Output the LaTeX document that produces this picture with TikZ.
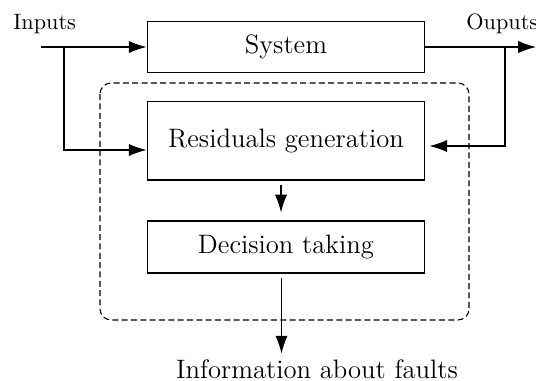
\documentclass[tikz,border=0pt]{standalone}
\usepackage{amsmath,amssymb}
\usepackage{tikz}
\usetikzlibrary{calc,positioning,arrows.meta}

\begin{document}
\begin{tikzpicture}[x=0.45pt,y=0.45pt,yscale=-1,xscale=1,
  blockbox/.style={draw, line width=0.5pt, minimum width=125pt, inner sep=0pt, font=\large},
  flow/.style={line width=0.5pt, -{Latex[length=8pt,width=5.5pt]}},
  plainlabel/.style={anchor=base west, inner sep=0pt}]
\useasboundingbox (0,0) rectangle (536,381);

%Shape: Rectangle [system]
\draw (286,47) node [blockbox, minimum height=23pt] (sys) {System};
%Shape: Rectangle [residuals]
\draw (286,140.5) node [blockbox, minimum height=35.5pt] (res) {Residuals generation};
%Shape: Rectangle [decision]
\draw (286,247) node [blockbox, minimum height=23.4pt] (dec) {Decision taking};

%Shape: Rounded Rect [diagnosis part]
\draw [line width=0.5pt, dash pattern=on 2.7pt off 1.5pt, rounded corners=5pt] (100,83) rectangle (469,320);

% Text Node
\draw (13,29) node [plainlabel] (inlabel) {Inputs};
% Text Node
\draw (466,29) node [plainlabel] (outlabel) {Ouputs};
% Text Node
\draw (317,378) node [anchor=base, inner sep=0pt, font=\large] (info) {Information about faults};

\coordinate (inp) at (41,47);
\coordinate (inbr) at (64,47);
\coordinate (outp) at (536,47);
\coordinate (outbr) at (505,47);

%Straight Lines
\draw [flow] (inp) -- (sys.west);
\draw [flow] (inbr) |- ($(res.west)+(0,9.5)$);
\draw [flow] (sys.east) -- (outp);
\draw [flow] (outbr) |- ($(res.east)+(4,5.5)$);
\draw [flow] ($(res.south)+(-5,4)$) -- ($(dec.north)+(-5,-8)$);
\draw [flow] ($(dec.south)+(-4.5,4)$) -- ($(dec.south)+(-4.5,80)$);

\end{tikzpicture}
\end{document}
